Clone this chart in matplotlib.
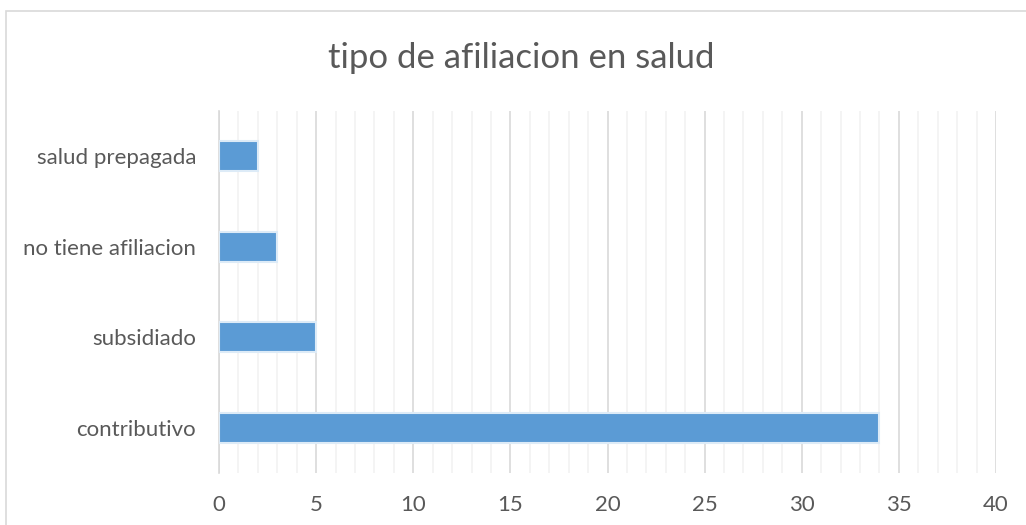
import matplotlib
matplotlib.use("Agg")
import matplotlib.pyplot as plt
from matplotlib.patches import Rectangle
from matplotlib.ticker import MultipleLocator

categories = ["contributivo", "subsidiado", "no tiene afiliacion", "salud prepagada"]
values = [34, 5, 3, 2]
title = "tipo de afiliacion en salud"
xticks = [0, 5, 10, 15, 20, 25, 30, 35, 40]

plt.rcParams['font.family'] = ['Lato', 'DejaVu Sans']
W, H = 1026, 525
fig = plt.figure(figsize=(W / 100, H / 100), dpi=100)
ax = fig.add_axes([219 / W, 1 - 473 / H, (996 - 219) / W, (473 - 111) / H])

ypos = list(range(len(categories)))
ax.barh(ypos, values, height=0.33, color="#5B9BD5", edgecolor="#DDEBF7", linewidth=1.5, zorder=3)

ax.set_xlim(0, 40)
ax.set_ylim(-0.5, len(categories) - 0.5)
ax.set_xticks(xticks)
ax.set_xticklabels([str(t) for t in xticks])
ax.xaxis.set_minor_locator(MultipleLocator(1))
ax.set_yticks(ypos)
ax.set_yticklabels(categories)

ax.grid(axis="x", which="major", color="#D9D9D9", linewidth=1.2, zorder=0)
ax.grid(axis="x", which="minor", color="#F2F2F2", linewidth=1.2, zorder=0)
ax.set_axisbelow(True)
for s in ["top", "right", "bottom"]:
    ax.spines[s].set_visible(False)
ax.spines["left"].set_color("#D9D9D9")
ax.spines["left"].set_linewidth(1.2)
ax.tick_params(axis="both", which="both", length=0, labelsize=16, colors="#595959")
ax.tick_params(axis="x", pad=16)
ax.tick_params(axis="y", pad=16.5)

fig.text(521 / W, 1 - 58 / H, title, ha="center", va="center", fontsize=25, color="#595959")

fig.patches.append(Rectangle((6 / W, -0.1), 2, 1 - 11 / H + 0.1, transform=fig.transFigure,
                             fill=False, edgecolor="#D9D9D9", linewidth=1.2))

fig.savefig("out.png", dpi=100, facecolor="white")
